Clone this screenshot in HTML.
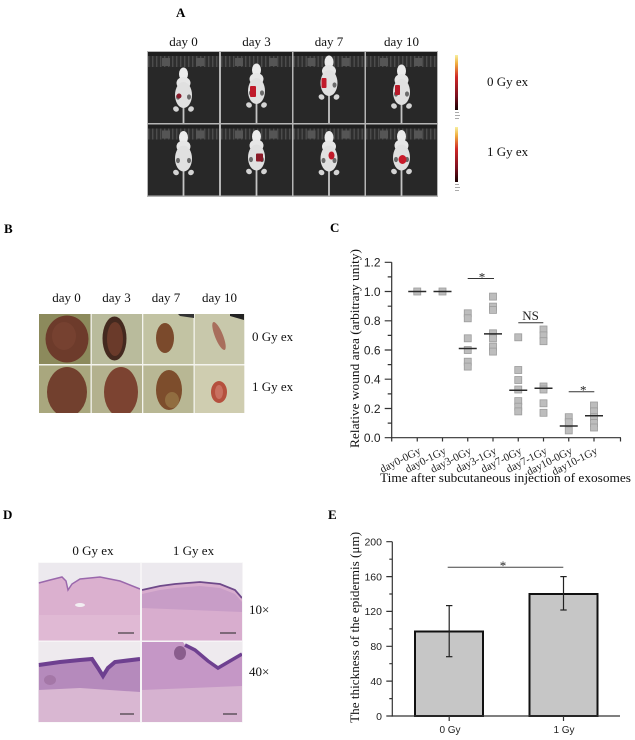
<!DOCTYPE html>
<html><head><meta charset="utf-8">
<style>
html,body{margin:0;padding:0;background:#fff;}
svg{display:block;}
</style></head><body>
<svg width="635" height="740" viewBox="0 0 635 740" xmlns="http://www.w3.org/2000/svg" xmlns:xlink="http://www.w3.org/1999/xlink">
<defs>
 <pattern id="teeth" width="4" height="12" patternUnits="userSpaceOnUse">
   <rect width="4" height="12" fill="#2e2e2e"/>
   <rect x="0" width="1.4" height="12" fill="#4c4c4c"/>
 </pattern>
 <linearGradient id="cb" x1="0" y1="0" x2="0" y2="1">
   <stop offset="0" stop-color="#f8f0a0"/>
   <stop offset="0.15" stop-color="#f0b040"/>
   <stop offset="0.4" stop-color="#d02828"/>
   <stop offset="0.75" stop-color="#7a1020"/>
   <stop offset="1" stop-color="#180000"/>
 </linearGradient>
 <g id="mouse">
   <rect x="-0.9" y="38" width="1.8" height="40" fill="#c4c4c4"/>
   <ellipse cx="-7.5" cy="41" rx="3" ry="2.6" fill="#d4d4d4" transform="rotate(30 -7.5 41)"/>
   <ellipse cx="7.5" cy="41" rx="3" ry="2.6" fill="#d4d4d4" transform="rotate(-30 7.5 41)"/>
   <ellipse cx="0" cy="6" rx="4.5" ry="6.5" fill="#ececec"/>
   <ellipse cx="0" cy="15" rx="7" ry="6" fill="#e6e6e6"/>
   <ellipse cx="0" cy="27" rx="8.5" ry="13" fill="#e0e0e0"/>
   <ellipse cx="-5.5" cy="29" rx="2" ry="2.6" fill="#6a6a6a"/>
   <ellipse cx="5.5" cy="29" rx="2" ry="2.6" fill="#6a6a6a"/>
 </g>
 <g id="cellbg">
   <rect width="71" height="71" fill="#282828"/>
   <rect width="71" height="4" fill="#1e1e1e"/>
   <rect y="4" width="71" height="11" fill="url(#teeth)"/>
   <rect x="14" y="6" width="8" height="8" fill="#555"/>
   <rect x="48" y="6" width="8" height="8" fill="#555"/>
 </g>
 <clipPath id="ar1"><rect x="148" y="52" width="289" height="71"/></clipPath>
 <clipPath id="ar2"><rect x="148" y="124.5" width="289" height="71"/></clipPath>
 <clipPath id="bclip"><rect x="39" y="314" width="205.3" height="99"/></clipPath>
 <clipPath id="dclip"><rect x="38.7" y="563" width="203.3" height="159"/></clipPath>
</defs>

<rect width="635" height="740" fill="#fff"/>

<!-- ============ PANEL A ============ -->
<text x="176" y="17" font-family="Liberation Serif, serif" font-weight="bold" font-size="13">A</text>
<g font-family="Liberation Serif, serif" font-size="13" text-anchor="middle" fill="#111">
 <text x="183.5" y="46">day 0</text>
 <text x="256.5" y="46">day 3</text>
 <text x="329" y="46">day 7</text>
 <text x="401.5" y="46">day 10</text>
</g>
<rect x="147" y="51" width="291" height="146" fill="#b5b5b5"/>
<g clip-path="url(#ar1)">
 <g transform="translate(148,52)"><use xlink:href="#cellbg"/><use xlink:href="#mouse" x="35.5" y="16"/>
   <ellipse cx="31" cy="44" rx="2.5" ry="2.5" fill="#8a1a2a"/></g>
 <g transform="translate(221,52)"><use xlink:href="#cellbg"/><use xlink:href="#mouse" x="35.5" y="12"/>
   <rect x="29" y="34" width="6" height="11" rx="1" fill="#c01a2a"/></g>
 <g transform="translate(293.5,52)"><use xlink:href="#cellbg"/><use xlink:href="#mouse" x="35.5" y="4"/>
   <rect x="28" y="26" width="5" height="10" rx="1" fill="#c01a2a"/></g>
 <g transform="translate(366,52)"><use xlink:href="#cellbg"/><use xlink:href="#mouse" x="35.5" y="13"/>
   <rect x="29" y="33" width="5" height="10" rx="1" fill="#b81a2a"/></g>
</g>
<g clip-path="url(#ar2)">
 <g transform="translate(148,124.5)"><use xlink:href="#cellbg"/><use xlink:href="#mouse" x="35.5" y="7"/></g>
 <g transform="translate(221,124.5)"><use xlink:href="#cellbg"/><use xlink:href="#mouse" x="35.5" y="6"/>
   <rect x="35" y="29" width="7" height="8" rx="1" fill="#8a1a28"/></g>
 <g transform="translate(293.5,124.5)"><use xlink:href="#cellbg"/><use xlink:href="#mouse" x="35.5" y="7"/>
   <ellipse cx="38" cy="31" rx="3" ry="4" fill="#c01a2a"/></g>
 <g transform="translate(366,124.5)"><use xlink:href="#cellbg"/><use xlink:href="#mouse" x="35.5" y="6"/>
   <ellipse cx="36.5" cy="35" rx="4" ry="4.5" fill="#c81a2a"/></g>
</g>
<!-- colorbars -->
<rect x="455" y="55" width="3" height="55" fill="url(#cb)"/>
<rect x="455" y="127" width="3" height="55" fill="url(#cb)"/>
<g fill="#aaa">
 <rect x="455" y="112" width="4" height="1"/><rect x="455" y="115" width="5" height="1"/><rect x="455" y="118" width="4" height="1"/>
 <rect x="455" y="184" width="4" height="1"/><rect x="455" y="187" width="5" height="1"/><rect x="455" y="190" width="4" height="1"/>
</g>
<g font-family="Liberation Serif, serif" font-size="13" fill="#111">
 <text x="487" y="86">0 Gy ex</text>
 <text x="487" y="156">1 Gy ex</text>
</g>

<!-- ============ PANEL B ============ -->
<text x="4" y="233" font-family="Liberation Serif, serif" font-weight="bold" font-size="13">B</text>
<g font-family="Liberation Serif, serif" font-size="13" text-anchor="middle" fill="#111">
 <text x="66.5" y="302">day 0</text>
 <text x="116.5" y="302">day 3</text>
 <text x="166" y="302">day 7</text>
 <text x="219.5" y="302">day 10</text>
</g>
<g clip-path="url(#bclip)">
 <rect x="39" y="314" width="206" height="100" fill="#f4f4ee"/>
 <!-- top row -->
 <rect x="39" y="314" width="51.5" height="50" fill="#8c8a5c"/>
 <rect x="91.8" y="314" width="50.2" height="50" fill="#b9bb9c"/>
 <rect x="143.3" y="314" width="50.2" height="50" fill="#c2c3a3"/>
 <rect x="194.8" y="314" width="50" height="50" fill="#c8c8ab"/>
 <ellipse cx="67" cy="339" rx="21.5" ry="23.5" fill="#6d3b2b"/>
 <ellipse cx="64" cy="336" rx="12" ry="14" fill="#7a4433" opacity="0.7"/>
 <ellipse cx="114.5" cy="338.5" rx="12" ry="22" fill="#44291f"/>
 <ellipse cx="115" cy="339" rx="8" ry="17" fill="#6a3a2a"/>
 <ellipse cx="165" cy="338" rx="9" ry="15" fill="#7b4a2c"/>
 <ellipse cx="219" cy="336" rx="4" ry="15" fill="#a86e5c" transform="rotate(-22 219 336)"/>
 <path d="M180,316 L194,318 L194,314 L178,314 Z" fill="#333"/>
 <path d="M230,316 L244,320 L244,314 L230,314 Z" fill="#222"/>
 <!-- bottom row -->
 <rect x="39" y="365.5" width="51.5" height="48" fill="#a9a77e"/>
 <rect x="91.8" y="365.5" width="50.2" height="48" fill="#b3b18e"/>
 <rect x="143.3" y="365.5" width="50.2" height="48" fill="#b8b794"/>
 <rect x="194.8" y="365.5" width="50" height="48" fill="#cfcdb0"/>
 <ellipse cx="67" cy="392" rx="20" ry="25" fill="#72402e"/>
 <ellipse cx="121" cy="392" rx="17" ry="25" fill="#7c4331"/>
 <ellipse cx="169" cy="390" rx="13" ry="20" fill="#7d4d2c"/>
 <ellipse cx="172" cy="400" rx="7" ry="8" fill="#9a7a48" opacity="0.7"/>
 <ellipse cx="219" cy="392" rx="8" ry="11" fill="#b5503e"/>
 <ellipse cx="219" cy="392" rx="4" ry="7" fill="#c87060"/>
</g>
<g font-family="Liberation Serif, serif" font-size="13" fill="#111">
 <text x="252" y="341">0 Gy ex</text>
 <text x="252" y="391">1 Gy ex</text>
</g>

<!-- ============ PANEL C ============ -->
<text x="330" y="232" font-family="Liberation Serif, serif" font-weight="bold" font-size="13">C</text>
<g stroke="#333" stroke-width="1.2" fill="none">
 <line x1="391.7" y1="262.3" x2="391.7" y2="438.3"/>
 <line x1="391.1" y1="437.7" x2="621" y2="437.7"/>
 <path d="M384.7,437.7H391.7M384.7,408.5H391.7M384.7,379.2H391.7M384.7,350H391.7M384.7,320.8H391.7M384.7,291.5H391.7M384.7,262.3H391.7"/>
 <path d="M387.7,423.1H391.7M387.7,393.9H391.7M387.7,364.6H391.7M387.7,335.4H391.7M387.7,306.2H391.7M387.7,276.9H391.7"/>
 <path d="M391.7,437.7V441.5M417.25,437.7V441.5M442.5,437.7V441.5M467.75,437.7V441.5M493,437.7V441.5M518.25,437.7V441.5M543.5,437.7V441.5M568.75,437.7V441.5M594,437.7V441.5M620.5,437.7V441.5"/>
</g>
<g font-family="Liberation Sans, sans-serif" font-size="12" text-anchor="end" fill="#222">
 <text x="380.5" y="442">0.0</text>
 <text x="380.5" y="412.8">0.2</text>
 <text x="380.5" y="383.5">0.4</text>
 <text x="380.5" y="354.3">0.6</text>
 <text x="380.5" y="325.1">0.8</text>
 <text x="380.5" y="295.8">1.0</text>
 <text x="380.5" y="266.6">1.2</text>
</g>
<g font-family="Liberation Serif, serif" font-size="11" text-anchor="end" fill="#222">
 <text transform="translate(421.5,453) rotate(-27)">day0-0Gy</text>
 <text transform="translate(446.75,453) rotate(-27)">day0-1Gy</text>
 <text transform="translate(472,453) rotate(-27)">day3-0Gy</text>
 <text transform="translate(497.25,453) rotate(-27)">day3-1Gy</text>
 <text transform="translate(522.5,453) rotate(-27)">day7-0Gy</text>
 <text transform="translate(547.75,453) rotate(-27)">day7-1Gy</text>
 <text transform="translate(573,453) rotate(-27)">day10-0Gy</text>
 <text transform="translate(598.25,453) rotate(-27)">day10-1Gy</text>
</g>
<text x="380" y="482" font-family="Liberation Serif, serif" font-size="13" fill="#111" textLength="251" lengthAdjust="spacingAndGlyphs">Time after subcutaneous injection of exosomes</text>
<text transform="translate(359,348.5) rotate(-90)" text-anchor="middle" font-family="Liberation Serif, serif" font-size="13" fill="#111" textLength="199" lengthAdjust="spacingAndGlyphs">Relative wound area (arbitrary unity)</text>

<g fill="#bdbdbd" stroke="#9c9c9c" stroke-width="0.8">
 <rect x="413.75" y="288" width="7" height="7"/>
 <rect x="439" y="288" width="7" height="7"/>
 <rect x="464.25" y="309.8" width="7" height="7"/>
 <rect x="464.25" y="314.8" width="7" height="7"/>
 <rect x="464.25" y="334.8" width="7" height="7"/>
 <rect x="464.25" y="346.5" width="7" height="7"/>
 <rect x="464.25" y="358.2" width="7" height="7"/>
 <rect x="464.25" y="363.1" width="7" height="7"/>
 <rect x="489.5" y="293.1" width="7" height="7"/>
 <rect x="489.5" y="303.1" width="7" height="7"/>
 <rect x="489.5" y="306.4" width="7" height="7"/>
 <rect x="489.5" y="329.8" width="7" height="7"/>
 <rect x="489.5" y="334.8" width="7" height="7"/>
 <rect x="489.5" y="343.1" width="7" height="7"/>
 <rect x="489.5" y="348.1" width="7" height="7"/>
 <rect x="514.75" y="333.8" width="7" height="7"/>
 <rect x="514.75" y="366.5" width="7" height="7"/>
 <rect x="514.75" y="376.5" width="7" height="7"/>
 <rect x="514.75" y="386" width="7" height="7"/>
 <rect x="514.75" y="397.6" width="7" height="7"/>
 <rect x="514.75" y="403.2" width="7" height="7"/>
 <rect x="514.75" y="407.9" width="7" height="7"/>
 <rect x="540" y="326" width="7" height="7"/>
 <rect x="540" y="331.9" width="7" height="7"/>
 <rect x="540" y="337.7" width="7" height="7"/>
 <rect x="540" y="383" width="7" height="7"/>
 <rect x="540" y="386" width="7" height="7"/>
 <rect x="540" y="399.8" width="7" height="7"/>
 <rect x="540" y="409.3" width="7" height="7"/>
 <rect x="565.25" y="413.7" width="7" height="7"/>
 <rect x="565.25" y="418.8" width="7" height="7"/>
 <rect x="565.25" y="426.9" width="7" height="7"/>
 <rect x="590.5" y="402" width="7" height="7"/>
 <rect x="590.5" y="407.9" width="7" height="7"/>
 <rect x="590.5" y="413.7" width="7" height="7"/>
 <rect x="590.5" y="419.6" width="7" height="7"/>
 <rect x="590.5" y="424" width="7" height="7"/>
</g>
<g stroke="#2a2a2a" stroke-width="1.5">
 <line x1="408.25" y1="291.5" x2="426.25" y2="291.5"/>
 <line x1="433.5" y1="291.5" x2="451.5" y2="291.5"/>
 <line x1="458.75" y1="348.5" x2="476.75" y2="348.5"/>
 <line x1="484" y1="333.9" x2="502" y2="333.9"/>
 <line x1="509.25" y1="390.3" x2="527.25" y2="390.3"/>
 <line x1="534.5" y1="388.3" x2="552.5" y2="388.3"/>
 <line x1="559.75" y1="426" x2="577.75" y2="426"/>
 <line x1="585" y1="415.8" x2="603" y2="415.8"/>
</g>
<g stroke="#333" stroke-width="1">
 <line x1="467.7" y1="278.5" x2="494" y2="278.5"/>
 <line x1="518.3" y1="322.7" x2="543.3" y2="322.7"/>
 <line x1="568.7" y1="391.7" x2="594.3" y2="391.7"/>
</g>
<g font-family="Liberation Serif, serif" font-size="13" text-anchor="middle" fill="#222">
 <text x="482" y="281.5">*</text>
 <text x="530.5" y="320">NS</text>
 <text x="583.3" y="394.5">*</text>
</g>

<!-- ============ PANEL D ============ -->
<text x="3" y="519" font-family="Liberation Serif, serif" font-weight="bold" font-size="13">D</text>
<g font-family="Liberation Serif, serif" font-size="13" text-anchor="middle" fill="#111">
 <text x="93" y="555">0 Gy ex</text>
 <text x="193.5" y="555">1 Gy ex</text>
</g>
<rect x="38" y="562.5" width="205" height="160" fill="#f6f4f6"/>
<g clip-path="url(#dclip)">
 <rect x="38.7" y="563" width="101.3" height="77.5" fill="#ece9ee"/>
 <path d="M38.7,583 L50,580 L62,577 L66,581 L68,590 L72,584 L80,579 L100,577 L120,581 L140,589 L140,640.5 L38.7,640.5 Z" fill="#dbb0cf"/>
 <path d="M38.7,583 L50,580 L62,577 L66,581 L68,590 L72,584 L80,579 L100,577 L120,581 L140,589" fill="none" stroke="#9a68ac" stroke-width="1.5"/>
 <rect x="38.7" y="615" width="101.3" height="25.5" fill="#e2bdd6" opacity="0.7"/>
 <ellipse cx="80" cy="605" rx="5" ry="2" fill="#f2eef2"/>
 <line x1="118" y1="633" x2="134" y2="633" stroke="#222" stroke-width="1"/>
 <rect x="142" y="563" width="100" height="77.5" fill="#ece9ee"/>
 <path d="M142,590 L160,586 L175,584 L200,582 L220,584 L235,590 L242,598 L242,640.5 L142,640.5 Z" fill="#d8adce"/>
 <path d="M142,594 L160,590 L175,588 L200,586 L220,588 L235,594 L242,602 L242,612 L142,608 Z" fill="#c498c6" opacity="0.8"/>
 <path d="M142,590 L160,586 L175,584 L200,582 L220,584 L235,590 L242,598" fill="none" stroke="#6f4a8a" stroke-width="1.8"/>
 <line x1="220" y1="633" x2="236" y2="633" stroke="#222" stroke-width="1"/>
 <rect x="38.7" y="642" width="101.3" height="80" fill="#eeeaee"/>
 <path d="M38.7,665 L60,662 L80,660 L92,659 L98,668 L103,676 L108,668 L115,662 L140,659 L140,722 L38.7,722 Z" fill="#b58abc"/>
 <path d="M38.7,690 L80,688 L140,692 L140,722 L38.7,722 Z" fill="#d9b7d2"/>
 <path d="M38.7,665 L60,662 L80,660 L92,659 L98,668 L103,676 L108,668 L115,662 L140,659" fill="none" stroke="#6e4090" stroke-width="4"/>
 <ellipse cx="50" cy="680" rx="6" ry="5" fill="#9a6a9a" opacity="0.6"/>
 <line x1="120" y1="714" x2="134" y2="714" stroke="#222" stroke-width="1"/>
 <rect x="142" y="642" width="100" height="80" fill="#c597c6"/>
 <path d="M142,690 L242,686 L242,722 L142,722 Z" fill="#d6b2d0"/>
 <path d="M183,642 L242,642 L242,654 L230,661 L218,668 L208,661 L195,650 L185,645 Z" fill="#eeeaee"/>
 <path d="M185,645 L195,650 L208,661 L218,668 L230,661 L242,654" fill="none" stroke="#6e4090" stroke-width="3.5"/>
 <ellipse cx="180" cy="653" rx="6" ry="7" fill="#7a4f7e" opacity="0.8"/>
 <line x1="223" y1="714" x2="237" y2="714" stroke="#222" stroke-width="1"/>
</g>
<rect x="140" y="562.5" width="2" height="160" fill="#f6f4f6"/>
<rect x="38" y="640.5" width="205" height="1.5" fill="#f6f4f6"/>
<g font-family="Liberation Serif, serif" font-size="13" fill="#111">
 <text x="249" y="614">10×</text>
 <text x="249" y="676">40×</text>
</g>

<!-- ============ PANEL E ============ -->
<text x="328" y="519" font-family="Liberation Serif, serif" font-weight="bold" font-size="13">E</text>
<rect x="415" y="631.5" width="68" height="84.5" fill="#c6c6c6" stroke="#111" stroke-width="2"/>
<rect x="529.5" y="594" width="68" height="122" fill="#c6c6c6" stroke="#111" stroke-width="2"/>
<g stroke="#222" stroke-width="1.2">
 <line x1="449.2" y1="605.6" x2="449.2" y2="656.7"/>
 <line x1="446" y1="605.6" x2="452.4" y2="605.6"/>
 <line x1="446" y1="656.7" x2="452.4" y2="656.7"/>
 <line x1="563.5" y1="576.6" x2="563.5" y2="610"/>
 <line x1="560.3" y1="576.6" x2="566.7" y2="576.6"/>
 <line x1="560.3" y1="610" x2="566.7" y2="610"/>
</g>
<g stroke="#333" stroke-width="1.2" fill="none">
 <line x1="392.3" y1="541.7" x2="392.3" y2="716.6"/>
 <line x1="391.7" y1="716" x2="620" y2="716"/>
 <path d="M386.3,716H392.3M386.3,681.1H392.3M386.3,646.3H392.3M386.3,611.4H392.3M386.3,576.6H392.3M386.3,541.7H392.3"/>
 <path d="M389.3,698.6H392.3M389.3,663.7H392.3M389.3,628.9H392.3M389.3,594H392.3M389.3,559.2H392.3"/>
 <path d="M449.2,716V721M563.5,716V721"/>
</g>
<g font-family="Liberation Sans, sans-serif" font-size="10.5" text-anchor="end" fill="#222">
 <text x="382" y="719.8">0</text>
 <text x="382" y="684.9">40</text>
 <text x="382" y="650.1">80</text>
 <text x="382" y="615.2">120</text>
 <text x="382" y="580.4">160</text>
 <text x="382" y="545.5">200</text>
</g>
<g font-family="Liberation Sans, sans-serif" font-size="10" text-anchor="middle" fill="#222">
 <text x="450" y="733">0 Gy</text>
 <text x="564" y="733">1 Gy</text>
</g>
<line x1="447.7" y1="567.3" x2="563.3" y2="567.3" stroke="#444" stroke-width="1"/>
<text x="503" y="570" font-family="Liberation Serif, serif" font-size="13" text-anchor="middle" fill="#222">*</text>
<text transform="translate(359,627.4) rotate(-90)" text-anchor="middle" font-family="Liberation Serif, serif" font-size="13" fill="#111" textLength="191" lengthAdjust="spacingAndGlyphs">The thickness of the epidermis (μm)</text>
</svg>
</body></html>
